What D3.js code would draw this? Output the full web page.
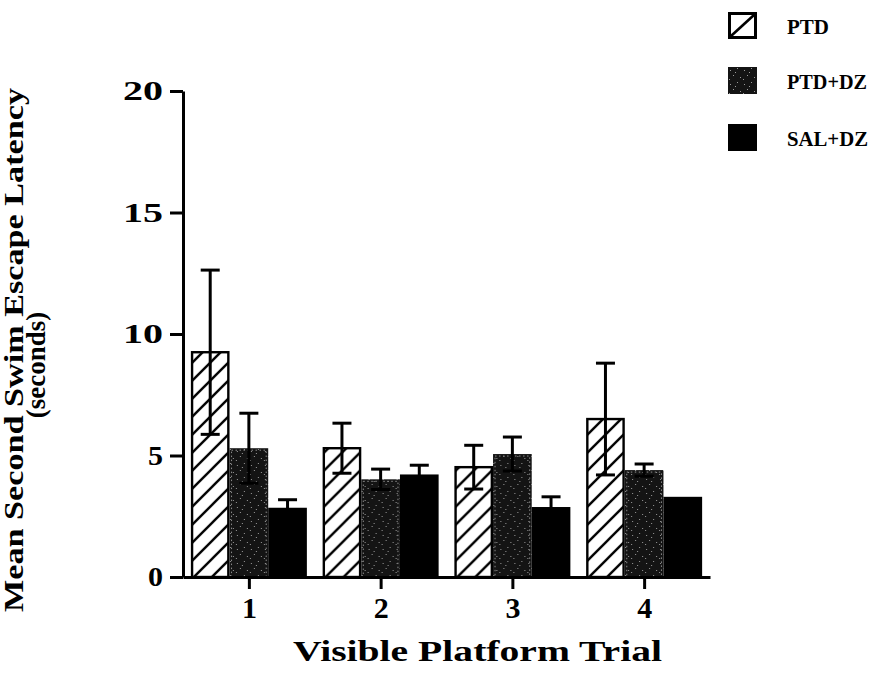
<!DOCTYPE html>
<html>
<head>
<meta charset="utf-8">
<script src="https://cdn.jsdelivr.net/npm/d3@7"></script>
<style>
  html, body { margin: 0; padding: 0; background: #fff; }
  svg { display: block; }
  svg text { font-family: "Liberation Serif", "Times New Roman", Times, "Nimbus Roman", serif; font-weight: bold; fill: #000; }
</style>
</head>
<body>
<svg id="chart" width="878" height="677"></svg>
<script>
// Visible platform trials and treatment groups
const trials = ["1", "2", "3", "4"];
const groups = ["PTD", "PTD+DZ", "SAL+DZ"];

// Mean escape latency (s) and standard error per trial
const ptdMean   = [9.25, 5.3, 4.52, 6.5];
const ptdSE     = [3.38, 1.03, 0.9, 2.3];
const ptdDzMean = [5.3, 4.02, 5.06, 4.4];
const ptdDzSE   = [1.44, 0.42, 0.7, 0.25];
const salDzMean = [2.85, 4.22, 2.88, 3.3];
const salDzSE   = [0.33, 0.38, 0.42, 0];

// Axis ticks
const yTicks = [0, 5, 10, 15, 20];

const means = { "PTD": ptdMean, "PTD+DZ": ptdDzMean, "SAL+DZ": salDzMean };
const ses   = { "PTD": ptdSE,   "PTD+DZ": ptdDzSE,   "SAL+DZ": salDzSE };

const rows = trials.map((t, i) => ({
  trial: t,
  values: groups.map(g => ({ group: g, mean: means[g][i], se: ses[g][i] }))
}));

const svg = d3.select("#chart");
const defs = svg.append("defs");

// Diagonal hatch for PTD
const hatch = defs.append("pattern")
  .attr("id", "hatch").attr("patternUnits", "userSpaceOnUse")
  .attr("width", 18).attr("height", 18);
hatch.append("rect").attr("width", 18).attr("height", 18).attr("fill", "#fff");
hatch.append("path")
  .attr("d", "M0,18 L18,0 M-4,4 L4,-4 M14,22 L22,14")
  .attr("stroke", "#000").attr("stroke-width", 2.4);

// Dark stipple for PTD+DZ
const stip = defs.append("pattern")
  .attr("id", "stipple").attr("patternUnits", "userSpaceOnUse")
  .attr("width", 14).attr("height", 14);
stip.append("rect").attr("width", 14).attr("height", 14).attr("fill", "#141414");
[[2,3],[9,1],[5,8],[12,10],[1,12],[7,5]].forEach(([px, py]) => {
  stip.append("rect").attr("x", px).attr("y", py).attr("width", 1).attr("height", 1).attr("fill", "#9a9a9a");
});

// Scales
const x0 = d3.scalePoint().domain(trials).range([183, 710]).padding(0.5);
const x1 = d3.scaleBand().domain(groups).range([-58, 58]).padding(0);
const y = d3.scaleLinear().domain([0, 20]).range([577, 91]);

// Bars
const gTrial = svg.append("g").selectAll("g")
  .data(rows).join("g")
  .attr("transform", d => `translate(${x0(d.trial)},0)`);

gTrial.selectAll("rect.bar")
  .data(d => d.values).join("rect")
  .attr("class", "bar")
  .attr("x", d => x1(d.group) + (d.group === "PTD" ? 1.2 : 0))
  .attr("width", d => x1.bandwidth() - (d.group === "PTD" ? 2.4 : 0))
  .attr("y", d => y(d.mean))
  .attr("height", d => y(0) - y(d.mean))
  .attr("fill", d => d.group === "PTD" ? "url(#hatch)" : d.group === "PTD+DZ" ? "url(#stipple)" : "#000")
  .attr("stroke", d => d.group === "PTD" ? "#000" : "none")
  .attr("stroke-width", 2.4);

// Dotted edge on the stippled bars
gTrial.selectAll("rect.edge")
  .data(d => d.values.filter(v => v.group === "PTD+DZ")).join("rect")
  .attr("class", "edge")
  .attr("x", d => x1(d.group) + 2)
  .attr("width", x1.bandwidth() - 4)
  .attr("y", d => y(d.mean) + 2)
  .attr("height", d => y(0) - y(d.mean) - 2)
  .attr("fill", "none")
  .attr("stroke", "#8c8c8c")
  .attr("stroke-width", 1)
  .attr("stroke-dasharray", "1.5 2.5");

// Error bars
const capW = 19;
const err = gTrial.selectAll("g.err")
  .data(d => d.values.filter(v => v.se > 0)).join("g")
  .attr("class", "err")
  .attr("transform", d => `translate(${x1(d.group) + x1.bandwidth() / 2},0)`);
err.append("line")
  .attr("y1", d => y(d.mean - d.se)).attr("y2", d => y(d.mean + d.se))
  .attr("stroke", "#000").attr("stroke-width", 3);
err.append("line")
  .attr("x1", -capW / 2).attr("x2", capW / 2)
  .attr("y1", d => y(d.mean + d.se)).attr("y2", d => y(d.mean + d.se))
  .attr("stroke", "#000").attr("stroke-width", 3);
err.append("line")
  .attr("x1", -capW / 2).attr("x2", capW / 2)
  .attr("y1", d => y(d.mean - d.se)).attr("y2", d => y(d.mean - d.se))
  .attr("stroke", "#000").attr("stroke-width", 3);

// Y axis
const yAxis = svg.append("g")
  .attr("transform", "translate(183,0)")
  .call(d3.axisLeft(y).tickValues(yTicks).tickSize(13).tickSizeOuter(0).tickPadding(7));
yAxis.attr("font-family", null).attr("font-size", null);
yAxis.select(".domain").attr("stroke", "#000").attr("stroke-width", 3);
yAxis.selectAll(".tick line").attr("stroke", "#000").attr("stroke-width", 3);
yAxis.selectAll(".tick text")
  .style("font-size", "28px")
  .attr("textLength", d => d >= 10 ? 40 : 15)
  .attr("lengthAdjust", "spacingAndGlyphs");

// X axis
const xAxis = svg.append("g")
  .attr("transform", "translate(0,577)")
  .call(d3.axisBottom(x0).tickSize(12).tickSizeOuter(0).tickPadding(8));
xAxis.attr("font-family", null).attr("font-size", null);
xAxis.select(".domain").attr("stroke", "#000").attr("stroke-width", 3);
xAxis.selectAll(".tick line").attr("stroke", "#000").attr("stroke-width", 3);
xAxis.selectAll(".tick text").style("font-size", "30px");

// Axis titles
svg.append("text")
  .attr("x", 477.5).attr("y", 661)
  .attr("text-anchor", "middle")
  .style("font-size", "30px")
  .attr("textLength", 369).attr("lengthAdjust", "spacingAndGlyphs")
  .text("Visible Platform Trial");

svg.append("text")
  .attr("transform", "translate(23,350) rotate(-90)")
  .attr("text-anchor", "middle")
  .style("font-size", "27px")
  .attr("textLength", 524).attr("lengthAdjust", "spacingAndGlyphs")
  .text("Mean Second Swim Escape Latency");

svg.append("text")
  .attr("transform", "translate(45,365) rotate(-90)")
  .attr("text-anchor", "middle")
  .style("font-size", "27px")
  .text("(seconds)");

// Legend
const legendY = [12, 67, 124];
const legend = svg.append("g").selectAll("g")
  .data(groups).join("g")
  .attr("transform", (d, i) => `translate(728,${legendY[i]})`);

legend.append("rect")
  .attr("x", d => d === "PTD" ? 1.5 : 0)
  .attr("y", d => d === "PTD" ? 1.5 : 0)
  .attr("width", d => d === "PTD" ? 26 : 29)
  .attr("height", d => d === "PTD" ? 24 : 27)
  .attr("fill", d => d === "PTD" ? "#fff" : d === "PTD+DZ" ? "url(#stipple)" : "#000")
  .attr("stroke", d => d === "PTD" ? "#000" : "none")
  .attr("stroke-width", 3);

legend.filter(d => d === "PTD").append("path")
  .attr("d", "M3,24 L26,3")
  .attr("stroke", "#000").attr("stroke-width", 2.6);

const legendLen = { "PTD": 42, "PTD+DZ": 80, "SAL+DZ": 81 };
legend.append("text")
  .attr("x", 59).attr("y", 22)
  .style("font-size", "22px")
  .attr("textLength", d => legendLen[d]).attr("lengthAdjust", "spacingAndGlyphs")
  .text(d => d);
</script>
</body>
</html>
